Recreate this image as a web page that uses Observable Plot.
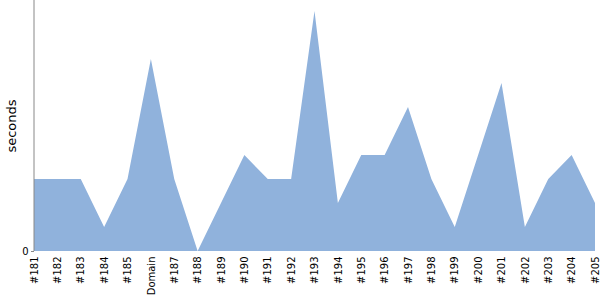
<!DOCTYPE html>
<html>
<head>
<meta charset="utf-8">
<script src="https://cdn.jsdelivr.net/npm/d3@7"></script>
<script src="https://cdn.jsdelivr.net/npm/@observablehq/plot@0.6"></script>
<style>
  html, body { margin: 0; padding: 0; background: #fff; }
</style>
</head>
<body>
<div id="chart"></div>
<script>
const builds = ["#181","#182","#183","#184","#185","Domain","#187","#188","#189","#190","#191","#192","#193","#194","#195","#196","#197","#198","#199","#200","#201","#202","#203","#204","#205"];
const seconds = [3,3,3,1,3,8,3,0,2,4,3,3,10,2,4,4,6,3,1,4,7,1,3,4,2];
const data = builds.map((b, i) => ({build: b, seconds: seconds[i]}));

const chart = Plot.plot({
  width: 600,
  height: 300,
  marginTop: 0,
  marginLeft: 34,
  marginRight: 5,
  marginBottom: 49,
  style: {fontFamily: "DejaVu Sans", fontSize: "10px", color: "#000", background: "#fff"},
  x: {type: "point", domain: builds, padding: 0, round: false, label: null},
  y: {domain: [0, 10.46], label: null},
  marks: [
    Plot.areaY(data, {x: "build", y: "seconds", fill: "#90b2dc", curve: "linear"}),
    Plot.ruleY([0], {stroke: "#888", strokeWidth: 1, x1: builds[0], x2: builds[builds.length-1]}),
    Plot.ruleX([builds[0]], {stroke: "#888", strokeWidth: 1, dx: -0.5}),
    Plot.axisY({ticks: [0], tickSize: 3, tickPadding: 3, stroke: "#888", label: null}),
    Plot.axisX({tickSize: 0, tickRotate: -90, tickPadding: 5, label: null}),
    Plot.text(["seconds"], {frameAnchor: "left", textAnchor: "middle", dx: -23, rotate: -90, fontSize: 13, fill: "#000"})
  ]
});
document.getElementById("chart").appendChild(chart);
</script>
</body>
</html>
